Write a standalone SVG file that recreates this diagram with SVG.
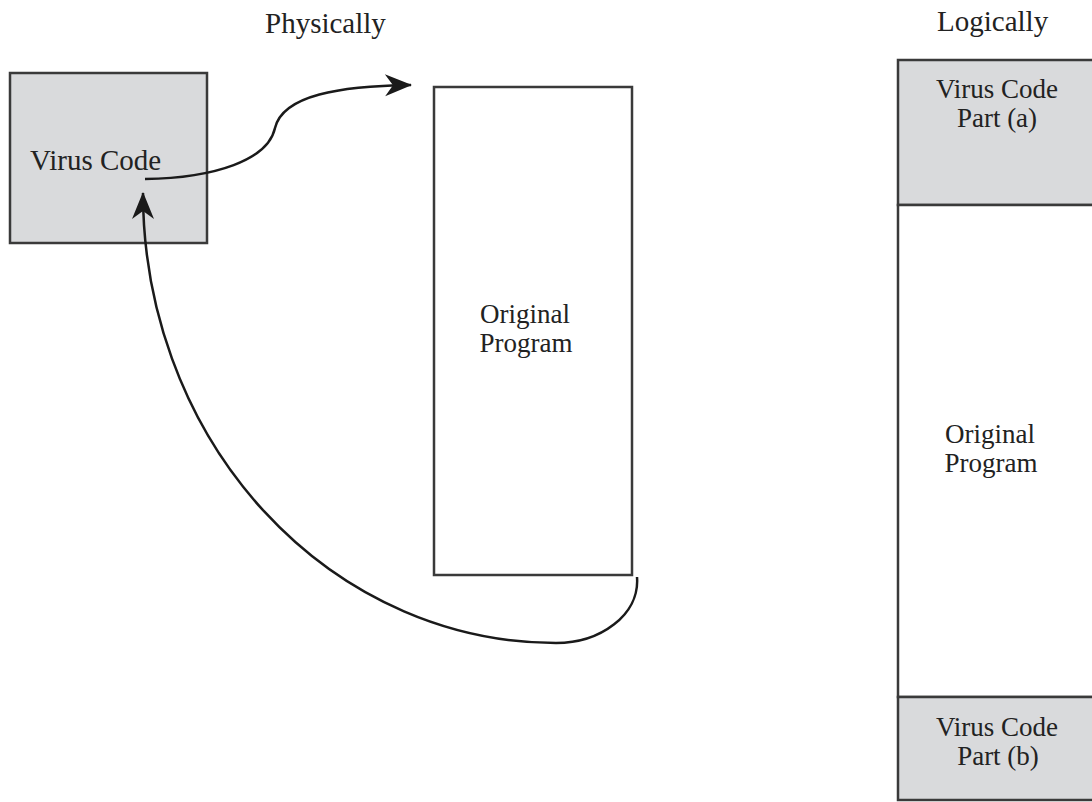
<svg xmlns="http://www.w3.org/2000/svg" width="1092" height="802" viewBox="0 0 1092 802">
<style>
.box{fill:#d9dadc;stroke:#3a3a3a;stroke-width:2.5}
.plain{fill:#ffffff;stroke:#3a3a3a;stroke-width:2.5}
.lbl{font-family:"Liberation Serif","Times New Roman",serif;font-size:29px;fill:#222}
.two{font-size:27px}
.mid{text-anchor:middle}
.conn{fill:none;stroke:#1a1a1a;stroke-width:2.5}
</style>
<defs>
<marker id="ah" viewBox="-28 -12 30 24" markerWidth="30" markerHeight="24" refX="0" refY="0" orient="auto" markerUnits="userSpaceOnUse">
<path d="M1,0 L-26,-11 L-18,0 L-26,11 Z" fill="#1a1a1a"/>
</marker>
</defs>
<rect width="1092" height="802" fill="#ffffff"/>
<text class="lbl" x="265" y="33">Physically</text>
<text class="lbl" x="937" y="31">Logically</text>
<g id="virus-code">
<rect class="box" x="10" y="73" width="197" height="170"/>
<text class="lbl" x="30" y="170">Virus Code</text>
</g>
<g id="original-program-physical">
<rect class="plain" x="434" y="87" width="198" height="488"/>
<text class="lbl two mid" x="525" y="323"><tspan x="525">Original</tspan><tspan x="526" dy="29">Program</tspan></text>
</g>
<g id="virus-part-a">
<rect class="box" x="898" y="60" width="210" height="145"/>
<text class="lbl two mid" x="997" y="98"><tspan x="997">Virus Code</tspan><tspan x="997" dy="29">Part (a)</tspan></text>
</g>
<g id="original-program-logical">
<rect class="plain" x="898" y="205" width="210" height="492"/>
<text class="lbl two mid" x="990" y="443"><tspan x="990">Original</tspan><tspan x="991" dy="29">Program</tspan></text>
</g>
<g id="virus-part-b">
<rect class="box" x="898" y="697" width="210" height="103"/>
<text class="lbl two mid" x="997" y="736"><tspan x="997">Virus Code</tspan><tspan x="998" dy="29">Part (b)</tspan></text>
</g>
<g id="connectors">
<path class="conn" d="M145,179 C215,178 268,160 275,128 C283,95 340,86 411,85" marker-end="url(#ah)"/>
<path class="conn" d="M637,577 C640,615 600,643 556,643 A413,450 0 0 1 143,193" marker-end="url(#ah)"/>
</g>
</svg>
